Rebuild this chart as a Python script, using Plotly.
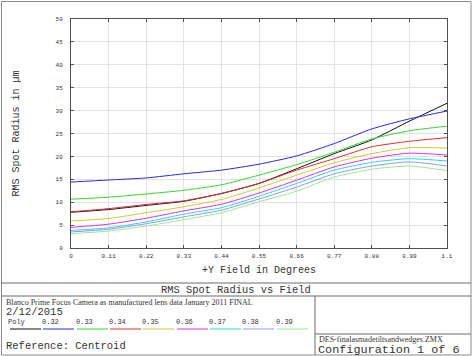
import plotly.graph_objects as go

# field positions (degrees) and RMS spot radius (um) per wavelength
field = [0, 0.11, 0.22, 0.33, 0.44, 0.55, 0.66, 0.77, 0.88, 0.99, 1.1]
poly = [7.8, 8.4, 9.3, 10.2, 11.9, 14.1, 17.3, 20.6, 23.6, 27.7, 31.6]
w032 = [14.4, 14.85, 15.3, 16.2, 17.0, 18.3, 20.1, 22.8, 26.0, 28.2, 29.9]
w033 = [10.65, 11.1, 11.8, 12.6, 13.8, 15.9, 18.2, 20.9, 23.8, 25.6, 26.6]
w034 = [7.9, 8.6, 9.5, 10.3, 11.9, 14.1, 17.0, 19.5, 22.1, 23.3, 24.1]
w035 = [5.9, 6.45, 7.7, 9.0, 10.6, 13.1, 15.9, 18.6, 20.6, 21.9, 21.8]
w036 = [4.5, 5.2, 6.5, 8.1, 9.55, 12.0, 14.8, 17.7, 19.6, 20.7, 20.3]
w037 = [3.84, 4.4, 5.7, 7.4, 8.8, 11.3, 14.1, 17.0, 18.7, 19.5, 19.0]
w038 = [3.5, 4.1, 5.3, 6.8, 8.26, 10.7, 13.3, 16.2, 17.9, 18.8, 17.9]
w039 = [3.1, 3.7, 4.8, 6.2, 7.7, 10.1, 12.4, 15.5, 17.2, 17.9, 16.9]

names = ["Poly", "0.32", "0.33", "0.34", "0.35", "0.36", "0.37", "0.38", "0.39"]
series = [poly, w032, w033, w034, w035, w036, w037, w038, w039]
colors = ["#101010", "#2a2ad6", "#34d834", "#dc3030", "#cccc30",
          "#e030e0", "#28d8e0", "#9494f0", "#94ec94"]

W, H = 473, 356
L, R, T, B = 71, 26, 19, 108
PW, PH = W - L - R, H - T - B


def px(x):
    return (x - L) / PW


def py(y):
    return (H - B - y) / PH


fig = go.Figure()
for n, s, c in zip(names, series, colors):
    fig.add_trace(go.Scatter(x=field, y=s, mode="lines", name=n,
                             line=dict(color=c, width=1, shape="spline", smoothing=0.6)))

txt = "#333333"
mono = "Liberation Mono"
serif = "Liberation Serif"

fig.update_xaxes(range=[0, 1.1], tickvals=field,
                 ticktext=["0", "0.11", "0.22", "0.33", "0.44", "0.55", "0.66",
                           "0.77", "0.88", "0.99", "1.1"],
                 showgrid=True, gridcolor="#e2e2e2", zeroline=False,
                 showline=True, linecolor="#505050", linewidth=1, mirror="ticks",
                 ticks="inside", ticklen=3, tickcolor="#505050",
                 ticklabelstandoff=2,
                 tickfont=dict(family=mono, size=6, color=txt),
                 title=dict(text="+Y Field in Degrees", standoff=6,
                            font=dict(family=mono, size=10, color=txt)))
fig.update_yaxes(range=[0, 50], dtick=5,
                 showgrid=True, gridcolor="#e2e2e2", zeroline=False,
                 showline=True, linecolor="#505050", linewidth=1, mirror="ticks",
                 ticks="inside", ticklen=3, tickcolor="#505050",
                 ticklabelstandoff=6,
                 tickfont=dict(family=mono, size=6, color=txt),
                 title=dict(text="RMS Spot Radius in µm", standoff=34,
                            font=dict(family=mono, size=10, color=txt)))

shapes = []
gray = "#6a6a6a"


def hline(x0, x1, y, color=gray, w=1):
    shapes.append(dict(type="line", xref="paper", yref="paper",
                       x0=px(x0), x1=px(x1), y0=py(y), y1=py(y),
                       line=dict(color=color, width=w)))


def vline(x, y0, y1, color=gray, w=1):
    shapes.append(dict(type="line", xref="paper", yref="paper",
                       x0=px(x), x1=px(x), y0=py(y0), y1=py(y1),
                       line=dict(color=color, width=w)))


# outer frame and title block
shapes.append(dict(type="rect", xref="paper", yref="paper",
                   x0=px(1.5), x1=px(471), y0=py(1.5), y1=py(355),
                   line=dict(color="#8a8a8a", width=1)))
hline(1.5, 471, 283)
hline(1.5, 471, 296)
vline(315, 296, 355)
hline(315, 471, 334)

# legend swatches
seg_x = [10, 43, 77, 110, 143, 177, 210, 243, 277]
for sx, c in zip(seg_x, colors):
    hline(sx, sx + 31, 329, color=c, w=1)

ann = []


def label(x, y, text, font, size, xanchor="left"):
    ann.append(dict(xref="paper", yref="paper", x=px(x), y=py(y), text=text,
                    showarrow=False, xanchor=xanchor, yanchor="middle", borderpad=0,
                    font=dict(family=font, size=size, color=txt)))


label(236, 289.5, "RMS Spot Radius vs Field", mono, 10.4, "center")
label(5, 302, "Blanco Prime Focus Camera as manufactured lens data January 2011 FINAL", serif, 8)
label(5, 311.5, "2/12/2015", mono, 10.5)
label(7, 321.5, "Poly", mono, 7)
for sx, n in zip(seg_x[1:], names[1:]):
    label(sx - 2, 321.5, n, mono, 7)
label(5, 346, "Reference: Centroid", mono, 10.5)
label(318, 339.5, "DES-finalasmadetiltsandwedges.ZMX", serif, 8)
label(317, 350, "Configuration 1 of 6", mono, 11.8)

fig.update_layout(width=W, height=H, margin=dict(l=L, r=R, t=T, b=B),
                  paper_bgcolor="white", plot_bgcolor="white",
                  showlegend=False, shapes=shapes, annotations=ann)

fig.write_html("out.html", config={"displayModeBar": False},
               post_script="document.body.style.margin='0';"
                           "document.body.style.overflow='hidden';")
